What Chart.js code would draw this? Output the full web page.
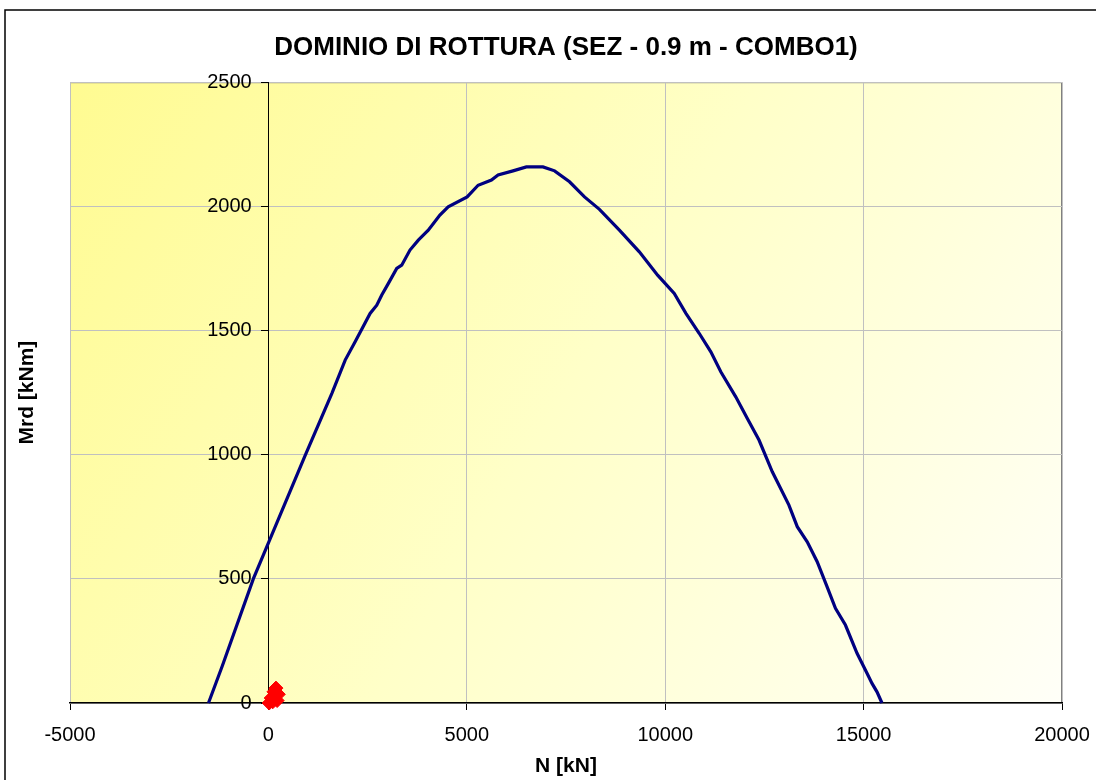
<!DOCTYPE html>
<html>
<head>
<meta charset="utf-8">
<script src="https://cdn.jsdelivr.net/npm/chart.js@4.4.1/dist/chart.umd.min.js"></script>
<style>
  html, body { margin: 0; padding: 0; background: #fff; }
  #wrap { width: 1096px; height: 780px; }
</style>
</head>
<body>
<div id="wrap"><canvas id="myChart" width="1096" height="780"></canvas></div>
<script>
// resistance domain (N, Mrd)
const nCurve = [-1510, -1160, -380, 30, 930, 1600, 1935, 2186, 2563, 2731, 2857, 3024, 3234, 3360, 3568, 3778, 4029, 4322, 4531, 5009, 5285, 5621, 5788, 6165, 6501, 6920, 7212, 7589, 7966, 8343, 8846, 9348, 9809, 10228, 10522, 10856, 11150, 11401, 11778, 12070, 12364, 12699, 13118, 13328, 13579, 13830, 14081, 14291, 14542, 14835, 15086, 15212, 15337, 15463];
const mCurve = [0, 150, 500, 656, 998, 1247, 1381, 1455, 1569, 1602, 1643, 1690, 1750, 1763, 1824, 1864, 1904, 1965, 1998, 2038, 2085, 2106, 2126, 2143, 2159, 2159, 2143, 2099, 2038, 1988, 1904, 1817, 1723, 1649, 1569, 1489, 1414, 1334, 1233, 1146, 1059, 931, 797, 710, 649, 569, 468, 381, 314, 200, 120, 79, 45, 0];

// acting loads (red markers)
const nSd = [20, 110, 220, 250, 190, 140, 70];
const mSd = [0, 5, 10, 35, 60, 45, 20];

const xTicks = [-5000, 0, 5000, 10000, 15000, 20000];
const yTicks = [0, 500, 1000, 1500, 2000, 2500];

const toPoints = (xs, ys) => xs.map((x, i) => ({ x: x, y: ys[i] }));

const FONT = "'Liberation Sans', Arial, sans-serif";

// plot area fill, frame and axis titles (Excel look)
const excelLook = {
    id: "excelLook",
    beforeDraw(chart) {
        const ctx = chart.ctx;
        const a = chart.chartArea;
        ctx.save();
        ctx.fillStyle = "#fff";
        ctx.fillRect(0, 0, chart.width, chart.height);
        ctx.strokeStyle = "#000";
        ctx.lineWidth = 1.5;
        ctx.strokeRect(5, 10, chart.width + 10, chart.height + 10);
        const g = ctx.createLinearGradient(a.left, a.top, a.right, a.bottom);
        g.addColorStop(0, "rgb(255,251,145)");
        g.addColorStop(0.5, "rgb(255,255,200)");
        g.addColorStop(1, "rgb(255,255,248)");
        ctx.fillStyle = g;
        ctx.fillRect(a.left, a.top, a.right - a.left, a.bottom - a.top);
        ctx.strokeStyle = "#808080";
        ctx.lineWidth = 1;
        ctx.strokeRect(a.left + 0.5, a.top + 0.5, a.right - a.left - 1, a.bottom - a.top);
        ctx.restore();
    },
    afterDraw(chart) {
        const ctx = chart.ctx;
        const a = chart.chartArea;
        ctx.save();
        ctx.fillStyle = "#000";
        ctx.textAlign = "center";
        ctx.textBaseline = "middle";
        ctx.font = "bold 21px " + FONT;
        ctx.fillText("N [kN]", (a.left + a.right) / 2, a.bottom + 63);
        ctx.translate(27, (a.top + a.bottom) / 2);
        ctx.rotate(-Math.PI / 2);
        ctx.fillText("Mrd [kNm]", 0, 0);
        ctx.restore();
    },
};

const ctx = document.getElementById("myChart").getContext("2d");
const myChart = new Chart(ctx, {
    type: "scatter",
    data: {
        datasets: [
            {
                label: "Dominio",
                data: toPoints(nCurve, mCurve),
                showLine: true,
                borderColor: "#000080",
                borderWidth: 3.2,
                pointRadius: 0,
                tension: 0,
                clip: false,
            },
            {
                label: "Sollecitazioni",
                data: toPoints(nSd, mSd),
                showLine: false,
                pointStyle: "rectRot",
                pointRadius: 7,
                backgroundColor: "#ff0000",
                borderColor: "#ff0000",
                clip: false,
            },
        ],
    },
    options: {
        responsive: false,
        animation: false,
        layout: { padding: { left: 70, right: 34, top: 0, bottom: 20 } },
        plugins: {
            legend: { display: false },
            tooltip: { enabled: false },
            title: {
                display: true,
                text: "DOMINIO DI ROTTURA (SEZ - 0.9 m - COMBO1)",
                color: "#000",
                font: { family: FONT, size: 26, weight: "bold" },
                padding: { top: 32, bottom: 19 },
            },
        },
        scales: {
            x: {
                type: "linear",
                position: "bottom",
                min: xTicks[0],
                max: xTicks[xTicks.length - 1],
                afterBuildTicks: (scale) => { scale.ticks = xTicks.map((v) => ({ value: v })); },
                ticks: {
                    color: "#000",
                    // tall line box pushes labels down without widening side padding
                    font: { family: FONT, size: 20, lineHeight: 2.5 },
                    padding: 0,
                    maxRotation: 0,
                    callback: (v) => String(v),
                },
                grid: { color: "#c0c0c0", tickColor: "#000", tickLength: 7 },
                border: { color: "#000", width: 1.5 },
            },
            y: {
                type: "linear",
                position: { x: 0 },
                min: yTicks[0],
                max: yTicks[yTicks.length - 1],
                afterBuildTicks: (scale) => { scale.ticks = yTicks.map((v) => ({ value: v })); },
                ticks: {
                    color: "#000",
                    font: { family: FONT, size: 20 },
                    // positioned axis: labels sit right on the axis, so pad with spaces
                    callback: (v) => String(v) + "   ",
                },
                grid: { color: "#c0c0c0", tickColor: "#000", tickLength: 7 },
                border: { color: "#000", width: 1 },
            },
        },
    },
    plugins: [excelLook],
});
</script>
</body>
</html>
